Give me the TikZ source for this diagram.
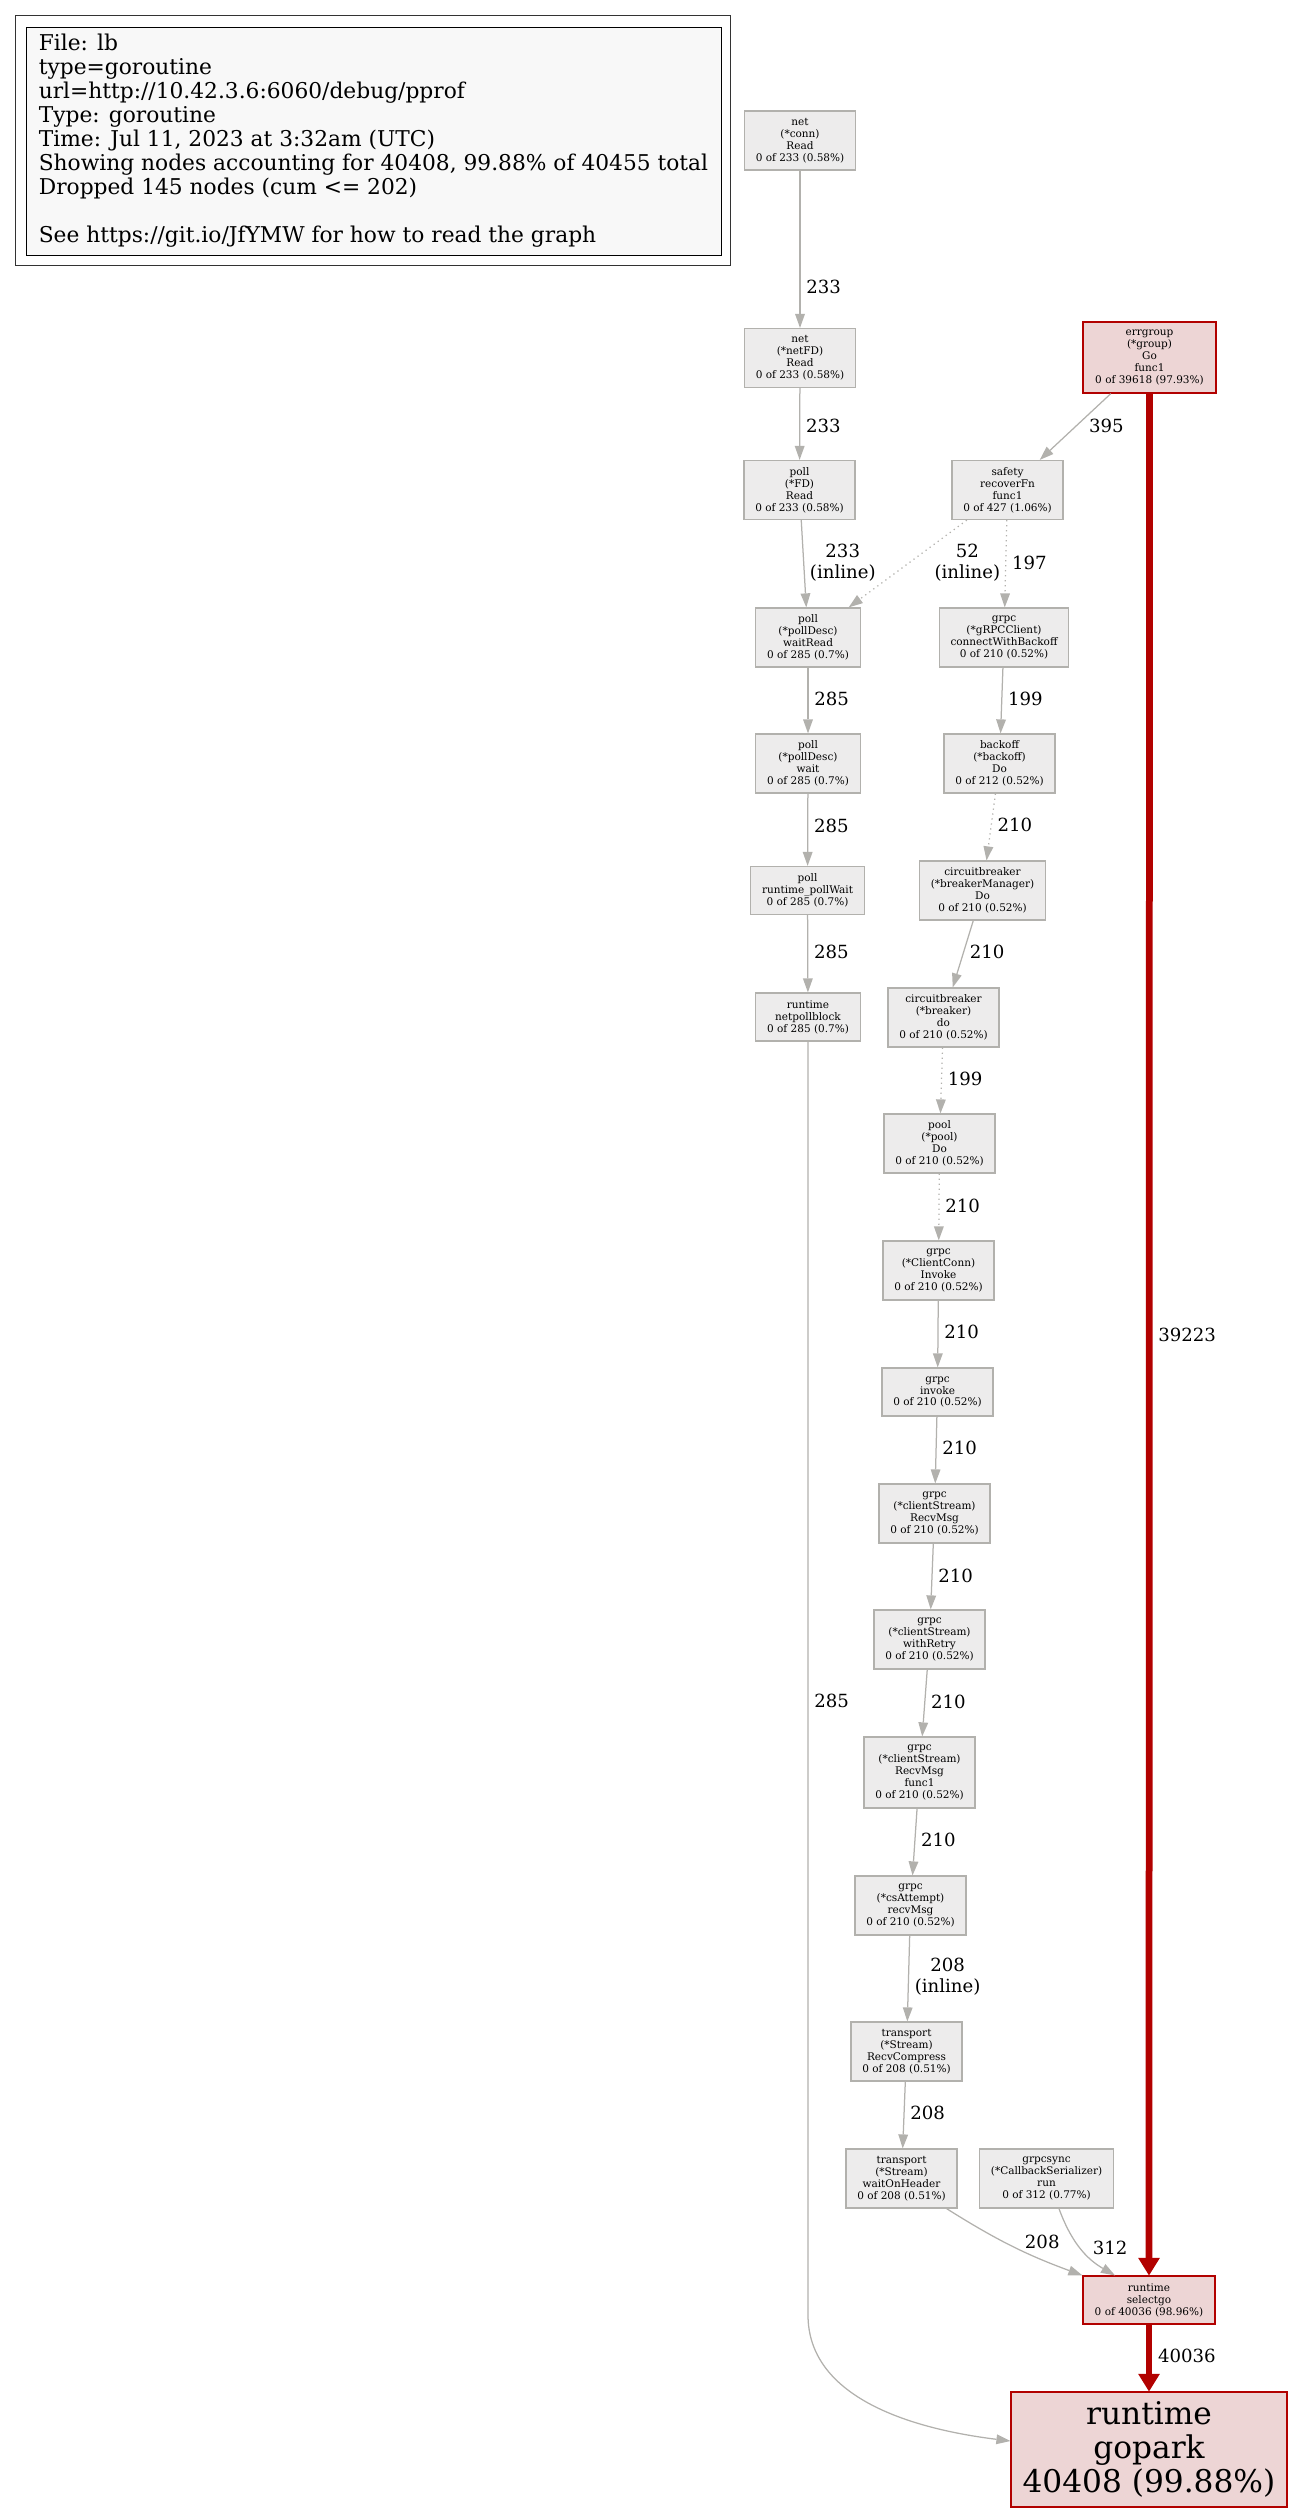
\documentclass[tikz,border=0pt]{standalone}
\usepackage{fontspec}
\setmainfont{DejaVu Serif}
\usetikzlibrary{arrows.meta}
\definecolor{nodegray}{HTML}{EDECEC}
\definecolor{linegray}{HTML}{B2B1AD}
\definecolor{nodered}{HTML}{EDD5D5}
\definecolor{linered}{HTML}{B20100}
\definecolor{legendfill}{HTML}{F8F8F8}

\begin{document}
\begin{tikzpicture}[x=0.8pt, y=-0.8pt,
  fn/.style={draw=linegray, fill=nodegray, line width=1pt, rectangle, align=center, inner xsep=9pt, inner ysep=0pt, minimum height=47.2pt, font=\fontsize{8.4}{9.6}\selectfont},
  three/.style={minimum height=38.4pt},
  five/.style={minimum height=56.8pt},
  hot/.style={fn, draw=linered, fill=nodered},
  legend/.style={draw=black, fill=legendfill, line width=0.8pt, align=left, inner sep=0pt, minimum width=556pt, minimum height=182.4pt, font=\fontsize{17.4}{19.2}\selectfont},
  arr/.style={draw=linegray, line width=1pt, -{Triangle[length=11.2pt, width=8pt, line width=0pt]}},
  dots/.style={arr, dash pattern=on 1pt off 3pt},
  hotarr/.style={draw=linered, line width=5.4pt, -{Triangle[length=14pt, width=17.4pt, line width=0pt]}},
  lbl/.style={font=\fontsize{14.5}{16.8}\selectfont, align=center, inner xsep=4.5pt, inner ysep=0pt, anchor=west}
]
\useasboundingbox (0,0) rectangle (1293,2512);

\draw[black!80, line width=0.6pt] (15.6,15.7) rectangle (730.5,265);
\node[legend] (legend) at (373.5,141) {File: lb\\type=goroutine\\url=http://10.42.3.6:6060/debug/pprof\\Type: goroutine\\Time: Jul 11, 2023 at 3:32am (UTC)\\Showing nodes accounting for 40408, 99.88\% of 40455 total\\Dropped 145 nodes (cum <= 202)\\[19.2pt]See https://git.io/JfYMW for how to read the graph};

\node[fn] (conn) at (800,140.5) {net\\(*conn)\\Read\\0 of 233 (0.58\%)};
\node[fn] (netfd) at (800,358) {net\\(*netFD)\\Read\\0 of 233 (0.58\%)};
\node[fn] (fdread) at (799.5,490) {poll\\(*FD)\\Read\\0 of 233 (0.58\%)};
\node[fn] (waitread) at (808,637.5) {poll\\(*pollDesc)\\waitRead\\0 of 285 (0.7\%)};
\node[fn] (pdwait) at (808,763.5) {poll\\(*pollDesc)\\wait\\0 of 285 (0.7\%)};
\node[fn, three] (pollwait) at (807.5,890.5) {poll\\runtime\_pollWait\\0 of 285 (0.7\%)};
\node[fn, three] (netpoll) at (808,1017) {runtime\\netpollblock\\0 of 285 (0.7\%)};
\node[hot, five, minimum width=106.4pt] (errgroup) at (1149.5,357.5) {errgroup\\(*group)\\Go\\func1\\0 of 39618 (97.93\%)};
\node[fn] (safety) at (1007.5,490) {safety\\recoverFn\\func1\\0 of 427 (1.06\%)};
\node[fn] (backoffconn) at (1004,637.5) {grpc\\(*gRPCClient)\\connectWithBackoff\\0 of 210 (0.52\%)};
\node[fn] (backoff) at (999.5,763.5) {backoff\\(*backoff)\\Do\\0 of 212 (0.52\%)};
\node[fn] (cbmanager) at (982.5,890.5) {circuitbreaker\\(*breakerManager)\\Do\\0 of 210 (0.52\%)};
\node[fn] (cbdo) at (943.5,1017.5) {circuitbreaker\\(*breaker)\\do\\0 of 210 (0.52\%)};
\node[fn] (pooldo) at (939.5,1143.5) {pool\\(*pool)\\Do\\0 of 210 (0.52\%)};
\node[fn] (ccinvoke) at (938.5,1270.5) {grpc\\(*ClientConn)\\Invoke\\0 of 210 (0.52\%)};
\node[fn, three] (invoke) at (937.5,1392) {grpc\\invoke\\0 of 210 (0.52\%)};
\node[fn] (recvmsg) at (934.5,1513.5) {grpc\\(*clientStream)\\RecvMsg\\0 of 210 (0.52\%)};
\node[fn] (retry) at (929.5,1639.5) {grpc\\(*clientStream)\\withRetry\\0 of 210 (0.52\%)};
\node[fn, five] (recvfunc) at (919.5,1772.5) {grpc\\(*clientStream)\\RecvMsg\\func1\\0 of 210 (0.52\%)};
\node[fn] (attempt) at (910.5,1905.5) {grpc\\(*csAttempt)\\recvMsg\\0 of 210 (0.52\%)};
\node[fn] (compress) at (906.5,2051.5) {transport\\(*Stream)\\RecvCompress\\0 of 208 (0.51\%)};
\node[fn] (header) at (901.5,2178.5) {transport\\(*Stream)\\waitOnHeader\\0 of 208 (0.51\%)};
\node[fn] (serializer) at (1046.5,2178.5) {grpcsync\\(*CallbackSerializer)\\run\\0 of 312 (0.77\%)};
\node[hot, three, minimum width=105.6pt] (selectgo) at (1149,2300) {runtime\\selectgo\\0 of 40036 (98.96\%)};
\node[hot, minimum width=220.8pt, minimum height=92pt, font=\fontsize{25}{27.5}\selectfont] (gopark) at (1149,2449.5) {runtime\\gopark\\40408 (99.88\%)};
\coordinate (turn) at (808,2315);

\draw[arr] (conn) -- node[lbl, pos=0.74]{233} (netfd);
\draw[arr] (netfd) -- node[lbl, pos=0.53]{233} (fdread);
\draw[arr] (fdread) -- node[lbl, pos=0.49]{233\\(inline)} (waitread);
\draw[dots] (safety) -- node[lbl, pos=0.49, xshift=15.5pt]{52\\(inline)} (waitread);
\draw[dots] (safety) -- node[lbl, pos=0.49]{197} (backoffconn);
\draw[arr] (errgroup) -- node[lbl, pos=0.49, xshift=5.5pt]{395} (safety);
\draw[arr] (waitread) -- node[lbl, pos=0.48]{285} (pdwait);
\draw[arr] (backoffconn) -- node[lbl, pos=0.48]{199} (backoff);
\draw[arr] (pdwait) -- node[lbl, pos=0.44]{285} (pollwait);
\draw[dots] (backoff) -- node[lbl, pos=0.47]{210} (cbmanager);
\draw[arr] (pollwait) -- node[lbl, pos=0.47]{285} (netpoll);
\draw[arr] (cbmanager) -- node[lbl, pos=0.47]{210} (cbdo);
\draw[dots] (cbdo) -- node[lbl, pos=0.47]{199} (pooldo);
\draw[dots] (pooldo) -- node[lbl, pos=0.49]{210} (ccinvoke);
\draw[arr] (ccinvoke) -- node[lbl, pos=0.47]{210} (invoke);
\draw[arr] (invoke) -- node[lbl, pos=0.47]{210} (recvmsg);
\draw[arr] (recvmsg) -- node[lbl, pos=0.49]{210} (retry);
\draw[arr] (retry) -- node[lbl, pos=0.49]{210} (recvfunc);
\draw[arr] (recvfunc) -- node[lbl, pos=0.47]{210} (attempt);
\draw[arr] (attempt) -- node[lbl, pos=0.48]{208\\(inline)} (compress);
\draw[arr] (compress) -- node[lbl, pos=0.47]{208} (header);
\draw[arr] ([xshift=-8.8pt]header.south east) to[bend right=6] node[lbl, pos=0.55, anchor=south west]{208} (selectgo.north west);
\draw[arr] ([xshift=10pt]serializer.south) to[bend right=20] node[lbl, pos=0.5, xshift=5pt]{312} ([xshift=-27.2pt]selectgo.north);
\draw[arr] (netpoll) -- node[lbl, pos=0.518]{285} (turn) .. controls (808,2395) and (905,2428) .. ([yshift=6.8pt]gopark.west);
\draw[hotarr] (errgroup) -- node[lbl, pos=0.5]{39223} (selectgo);
\draw[hotarr] (selectgo) -- node[lbl, pos=0.47]{40036} (gopark);
\end{tikzpicture}
\end{document}
